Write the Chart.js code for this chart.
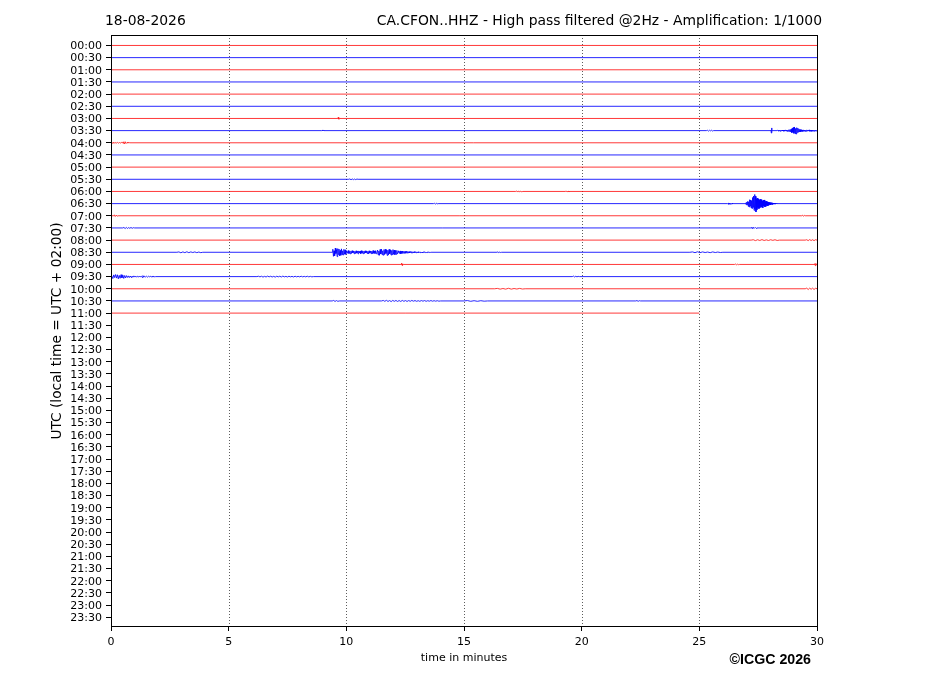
<!DOCTYPE html>
<html>
<head>
<meta charset="utf-8">
<script src="https://cdn.jsdelivr.net/npm/chart.js@4/dist/chart.umd.min.js"></script>
<style>
  body { margin: 0; background: #fff; }
  #wrap { width: 927px; height: 696px; }
</style>
</head>
<body>
<div id="wrap"><canvas id="heli" width="927" height="696"></canvas></div>
<script>
// tick labels on the left, one per half hour row
const hourLabels = [
  '00:00','00:30','01:00','01:30','02:00','02:30','03:00','03:30',
  '04:00','04:30','05:00','05:30','06:00','06:30','07:00','07:30',
  '08:00','08:30','09:00','09:30','10:00','10:30','11:00','11:30',
  '12:00','12:30','13:00','13:30','14:00','14:30','15:00','15:30',
  '16:00','16:30','17:00','17:30','18:00','18:30','19:00','19:30',
  '20:00','20:30','21:00','21:30','22:00','22:30','23:00','23:30'
];
const minuteTicks = [0, 5, 10, 15, 20, 25, 30];

// how far (minutes) each recorded row goes
const rowEnds = [30, 30, 30, 30, 30, 30, 30, 30, 30, 30, 30, 30,
                 30, 30, 30, 30, 30, 30, 30, 30, 30, 30, 25];

// wiggles: [row, from min, to min, offsets in row units]
const events = [
  [6, 9.64, 9.72, [0.09, -0.07, 0.05, -0.03]],
  [7, 8.95, 9.05, [0.03, -0.03, 0.02]],
  [7, 25.3, 25.6, [0.03, -0.04, 0.03, -0.02, 0.03, -0.03]],
  [7, 28.03, 28.1, [0.05, -0.2, 0.22, -0.06]],
  [7, 28.3, 30, [0.03, -0.04, 0.05, -0.02, 0.04, -0.05, 0.03, -0.04, 0.05, -0.03,
                 0.04, -0.05, 0.03, -0.04, 0.06, -0.03, 0.05, -0.06, 0.04, -0.05,
                 0.07, -0.06, 0.08, -0.1, 0.12,
                 -0.16, 0.2, -0.14, 0.26, -0.22, 0.3, -0.25, 0.18, -0.28, 0.24, -0.15, 0.2,
                 -0.12, 0.14, -0.1, 0.08, -0.09, 0.07, -0.06, 0.05, -0.07, 0.06,
                 -0.04, 0.05, -0.06, 0.04, -0.05, 0.06, -0.03, 0.05, -0.04, 0.06,
                 -0.05, 0.03, -0.05, 0.04, -0.06, 0.05, -0.04, 0.03, -0.05, 0.04,
                 -0.03, 0.05, -0.04]],
  [8, 0, 0.8, [0.08, -0.06, 0.05, -0.04, 0.02, -0.02, 0.03, -0.03, 0.02, -0.02,
               0.03, -0.02, 0.08, -0.1, 0.09, -0.06, 0.03, -0.02, 0.02]],
  [11, 10.1, 10.5, [0.03, -0.04, 0.03, -0.03, 0.02, -0.03, 0.02]],
  [12, 17.2, 17.5, [0.04, -0.05, 0.04, -0.03, 0.02, -0.03]],
  [12, 19.3, 19.5, [0.03, -0.04, 0.03, -0.02]],
  [13, 13.7, 13.9, [0.03, -0.04, 0.03, -0.02]],
  [13, 26.2, 26.45, [0.04, -0.06, 0.05, -0.04, 0.03, -0.05, 0.04, -0.03]],
  [13, 26.95, 28.3, [0.06, -0.1, 0.12, -0.08, 0.18, -0.22, 0.15, -0.28, 0.32, -0.2,
                     0.3, -0.35, 0.25, -0.4, 0.5, -0.3, 0.62, -0.55, 0.75, -0.45,
                     0.6, -0.68, 0.4, -0.5, 0.45, -0.32, 0.38, -0.42, 0.3, -0.35,
                     0.36, -0.25, 0.32, -0.3, 0.22, -0.34, 0.28, -0.2, 0.3, -0.26,
                     0.18, -0.24, 0.2, -0.16, 0.15, -0.18, 0.12, -0.14, 0.1, -0.09,
                     0.08, -0.1, 0.07, -0.06, 0.06, -0.07, 0.05, -0.04, 0.05, -0.04,
                     0.03, -0.04, 0.03, -0.03]],
  [14, 0.1, 0.3, [0.07, -0.06, 0.05, -0.03]],
  [14, 29.35, 29.5, [0.05, -0.04, 0.03]],
  [15, 0.5, 1.0, [0.04, -0.05, 0.04, -0.04, 0.03, -0.03, 0.04, -0.03, 0.02]],
  [15, 27.2, 27.45, [0.06, -0.07, 0.05, -0.03, 0.04, -0.03]],
  [16, 27.2, 28.4, [0.03, -0.04, 0.03, -0.03, 0.04, -0.03, 0.02, -0.03, 0.03, -0.02,
                    0.03, -0.03]],
  [16, 29.5, 30, [0.03, -0.04, 0.04, -0.03, 0.03, -0.04, 0.03]],
  [17, 2.8, 3.9, [0.03, -0.04, 0.03, -0.03, 0.04, -0.03, 0.03, -0.02, 0.03, -0.03,
                  0.02, -0.03]],
  [17, 9.4, 10.0, [0.25, -0.33, 0.12, -0.28, 0.34, -0.1, 0.22, -0.36, 0.3, -0.18,
                   0.27, -0.3, 0.15, -0.25, 0.28, -0.2, 0.12, -0.22, 0.24, -0.15,
                   0.2, -0.17]],
  [17, 10.0, 11.3, [0.12, -0.08, 0.14, -0.1, 0.06, -0.13, 0.11, -0.09, 0.13, -0.05,
                    0.1, -0.12, 0.08, -0.1, 0.12, -0.07, 0.09, -0.13, 0.11, -0.06,
                    0.1, -0.11, 0.13, -0.08, 0.07, -0.12, 0.1, -0.09, 0.12, -0.06,
                    0.11, -0.1, 0.08, -0.13, 0.12, -0.07, 0.1, -0.11, 0.09, -0.12,
                    0.14, -0.08, 0.11, -0.1, 0.13, -0.12]],
  [17, 11.3, 12.2, [0.18, -0.22, 0.1, -0.25, 0.23, -0.14, 0.26, -0.2, 0.12, -0.24,
                    0.22, -0.18, 0.25, -0.1, 0.2, -0.26, 0.17, -0.21, 0.24, -0.12,
                    0.2, -0.23, 0.15, -0.19, 0.22, -0.16, 0.18, -0.2, 0.14, -0.17,
                    0.15, -0.13]],
  [17, 12.2, 13.6, [0.12, -0.1, 0.11, -0.12, 0.08, -0.1, 0.1, -0.07, 0.09, -0.09,
                    0.07, -0.08, 0.08, -0.06, 0.07, -0.07, 0.05, -0.06, 0.06, -0.05,
                    0.05, -0.05, 0.04, -0.05, 0.05, -0.04, 0.04, -0.04, 0.03, -0.04,
                    0.04, -0.03, 0.03, -0.03, 0.03, -0.03, 0.02, -0.03, 0.03, -0.02,
                    0.02, -0.02, 0.02, -0.02, 0.02, -0.02, 0.01, -0.02, 0.01, -0.01]],
  [17, 16.4, 16.6, [0.03, -0.03, 0.02, -0.02]],
  [17, 24.6, 26.0, [0.03, -0.03, 0.04, -0.03, 0.03, -0.02, 0.02, -0.03, 0.03, -0.02,
                    0.02, -0.02]],
  [18, 12.33, 12.42, [0.1, -0.08, 0.05, -0.03]],
  [18, 26.5, 26.7, [0.03, -0.03, 0.02, -0.02]],
  [18, 29.88, 30, [0.06, -0.1, 0.08, -0.05]],
  [19, 0, 1.9, [0.1, -0.16, 0.14, -0.08, 0.17, -0.12, 0.15, -0.18, 0.1, -0.14,
                0.16, -0.1, 0.12, -0.15, 0.09, -0.11, 0.08, -0.07, 0.06, -0.08,
                0.05, -0.06, 0.04, -0.05, 0.06, -0.04, 0.05, -0.05, 0.03, -0.04,
                0.05, -0.03, 0.04, -0.06, 0.08, -0.05, 0.04, -0.03, 0.03, -0.04,
                0.03, -0.02, 0.03, -0.03, 0.02, -0.03, 0.02, -0.02]],
  [19, 6.2, 8.6, [0.03, -0.02, 0.03, -0.04, 0.02, -0.03, 0.04, -0.02, 0.03, -0.03,
                  0.02, -0.04, 0.03, -0.02, 0.03, -0.03, 0.04, -0.02, 0.02, -0.03,
                  0.03, -0.02, 0.02, -0.03, 0.03, -0.02, 0.02, -0.02, 0.03, -0.02,
                  0.02, -0.02, 0.03, -0.02, 0.02, -0.02]],
  [19, 19.6, 19.9, [0.04, -0.03, 0.03, -0.02, 0.02]],
  [20, 16.3, 17.6, [0.03, -0.03, 0.02, -0.03, 0.04, -0.03, 0.02, -0.02, 0.03, -0.02]],
  [20, 29.5, 30, [0.05, -0.06, 0.05, -0.04, 0.05, -0.06, 0.04]],
  [21, 9.4, 9.7, [0.04, -0.04, 0.03, -0.03]],
  [21, 11.5, 14, [0.04, -0.03, 0.05, -0.04, 0.03, -0.05, 0.04, -0.03, 0.04, -0.04,
                  0.03, -0.04, 0.04, -0.03, 0.03, -0.04, 0.03, -0.03, 0.04, -0.02,
                  0.03, -0.03, 0.02, -0.03, 0.03, -0.02, 0.03, -0.03, 0.02, -0.02,
                  0.03, -0.02, 0.02, -0.02, 0.02, -0.02]],
  [21, 15, 16, [0.03, -0.03, 0.02, -0.03, 0.02, -0.02]],
  [21, 22.3, 22.5, [0.03, -0.03, 0.02]]
];

const plotBox = { left: 111, right: 817, top: 35, bottom: 626 };

function rowPoints(r) {
  const pts = [{ x: 0, y: r }];
  const mine = events.filter(e => e[0] === r).sort((a, b) => a[1] - b[1]);
  mine.forEach(e => {
    const from = e[1], to = e[2], amp = e[3];
    pts.push({ x: from, y: r });
    amp.forEach((a, i) => {
      pts.push({ x: from + (to - from) * (i + 1) / (amp.length + 1), y: r - a });
    });
    pts.push({ x: to, y: r });
  });
  pts.push({ x: rowEnds[r], y: r });
  return pts;
}

const datasets = rowEnds.map((end, r) => ({
  data: rowPoints(r),
  borderColor: r % 2 === 0 ? 'rgba(255,0,0,0.78)' : 'rgba(0,0,255,0.85)',
  borderWidth: 1,
  pointRadius: 0,
  showLine: true,
  tension: 0
}));

const decorations = {
  id: 'decorations',
  beforeDatasetsDraw(chart) {
    const ctx = chart.ctx;
    const xs = chart.scales.x;
    const a = chart.chartArea;
    ctx.save();
    ctx.strokeStyle = '#333';
    ctx.lineWidth = 0.8;
    ctx.setLineDash([1, 2]);
    minuteTicks.slice(1, -1).forEach(m => {
      const px = Math.round(xs.getPixelForValue(m)) + 0.5;
      ctx.beginPath();
      ctx.moveTo(px, a.top);
      ctx.lineTo(px, a.bottom);
      ctx.stroke();
    });
    ctx.restore();
  },
  afterDraw(chart) {
    const ctx = chart.ctx;
    const a = chart.chartArea;
    ctx.save();
    ctx.strokeStyle = '#000';
    ctx.lineWidth = 1;
    ctx.strokeRect(a.left + 0.5, a.top + 0.5, a.right - a.left, a.bottom - a.top);

    ctx.fillStyle = '#000';
    ctx.font = '13.9px "DejaVu Sans"';
    ctx.textBaseline = 'alphabetic';
    ctx.textAlign = 'left';
    ctx.fillText('18-08-2026', 105, 25);
    ctx.textAlign = 'right';
    ctx.fillText('CA.CFON..HHZ - High pass filtered @2Hz - Amplification: 1/1000', 822, 25);

    ctx.font = '11px "DejaVu Sans"';
    ctx.textAlign = 'center';
    ctx.fillText('time in minutes', (a.left + a.right) / 2, 661);

    ctx.font = 'bold 14.2px "Liberation Sans"';
    ctx.textAlign = 'right';
    ctx.fillText('\u00A9ICGC 2026', 811, 664);

    ctx.translate(57, (a.top + a.bottom) / 2 + 0.5);
    ctx.rotate(-Math.PI / 2);
    ctx.font = '13.75px "DejaVu Sans"';
    ctx.textAlign = 'center';
    ctx.textBaseline = 'middle';
    ctx.fillText('UTC (local time = UTC + 02:00)', 0, 0);
    ctx.restore();
  }
};

new Chart(document.getElementById('heli'), {
  type: 'scatter',
  data: { datasets: datasets },
  options: {
    responsive: false,
    animation: false,
    devicePixelRatio: 1,
    layout: { padding: { left: 0, top: plotBox.top, right: 927 - plotBox.right, bottom: 0 } },
    plugins: { legend: { display: false }, tooltip: { enabled: false } },
    scales: {
      x: {
        type: 'linear',
        min: 0,
        max: 30,
        afterFit: s => { s.height = 696 - plotBox.bottom; },
        afterBuildTicks: s => { s.ticks = minuteTicks.map(v => ({ value: v })); },
        ticks: { color: '#000', font: { family: 'DejaVu Sans', size: 11 }, padding: 5, maxRotation: 0 },
        grid: { drawOnChartArea: false, drawTicks: true, tickLength: 5, color: '#000' },
        border: { display: true, color: '#000', width: 1 }
      },
      y: {
        type: 'linear',
        reverse: true,
        min: -0.86,
        max: 47.72,
        afterFit: s => { s.width = plotBox.left; },
        afterBuildTicks: s => { s.ticks = hourLabels.map((_, i) => ({ value: i })); },
        ticks: {
          color: '#000',
          font: { family: 'DejaVu Sans', size: 11 },
          padding: 4,
          labelOffset: 1,
          autoSkip: false,
          callback: v => hourLabels[v]
        },
        grid: { drawOnChartArea: false, drawTicks: true, tickLength: 5, color: '#000' },
        border: { display: true, color: '#000', width: 1 }
      }
    }
  },
  plugins: [decorations]
});
</script>
</body>
</html>
